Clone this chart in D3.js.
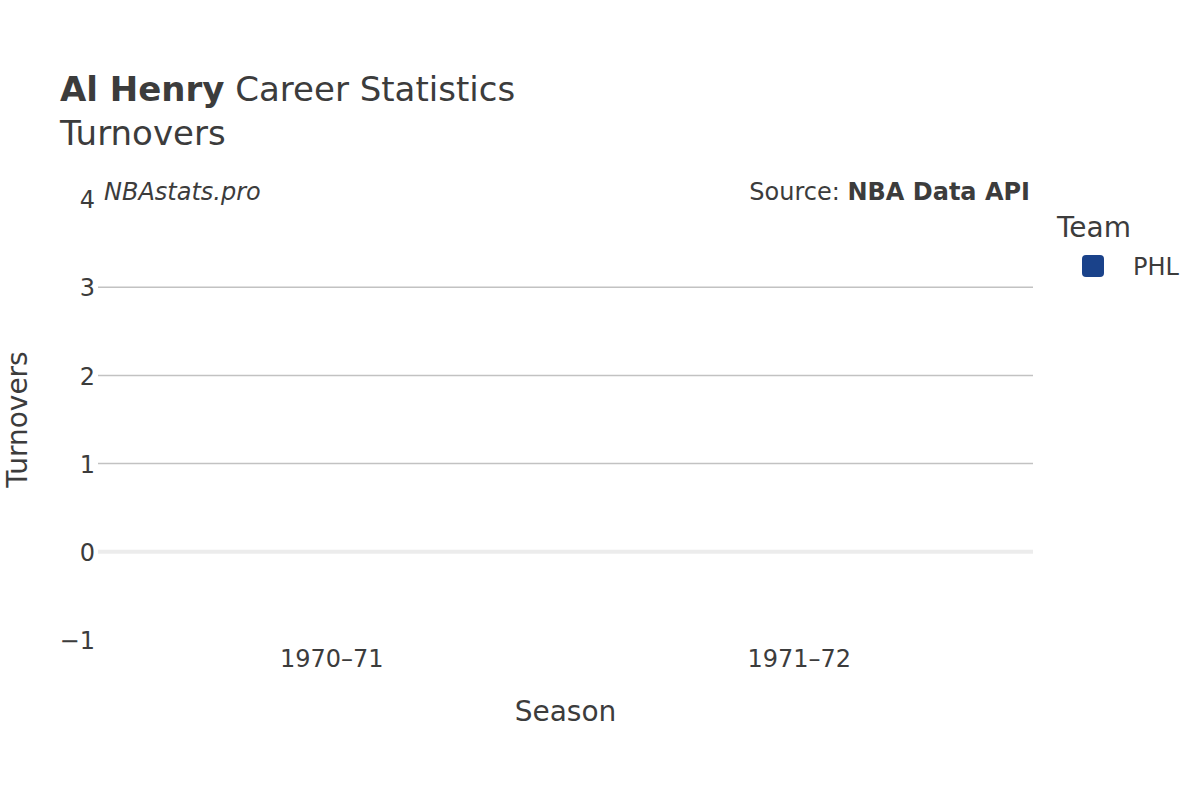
<!DOCTYPE html>
<html>
<head>
<meta charset="utf-8">
<title>Al Henry Career Statistics - Turnovers</title>
<style>
  body { margin: 0; background: #fff; }
  svg text { font-family: "DejaVu Sans", sans-serif; fill: #3c3c3c; }
</style>
</head>
<body>
<svg id="chart"></svg>
<script src="https://d3js.org/d3.v7.min.js"></script>
<script>
// data
var seasons = ["1970–71", "1971–72"];
var turnovers = [0, 0];
var teams = ["PHL"];
var teamColors = ["#1a428a"];
var yTicks = [-1, 0, 1, 2, 3, 4];

var svgWidth = 1200, svgHeight = 800;
var margin = { top: 199, right: 167, bottom: 160, left: 98 };
var plotW = svgWidth - margin.left - margin.right;
var plotH = svgHeight - margin.top - margin.bottom;

var svg = d3.select("#chart")
    .attr("width", svgWidth)
    .attr("height", svgHeight);

var xScale = d3.scaleBand()
    .domain(seasons)
    .range([0, plotW])
    .paddingInner(0.2)
    .paddingOuter(0.1);

var yScale = d3.scaleLinear()
    .domain([-1, 4])
    .range([plotH, 0]);

var plot = svg.append("g")
    .attr("transform", "translate(" + margin.left + "," + margin.top + ")");

// grid
plot.append("g")
    .selectAll("line")
    .data(yTicks.filter(function(d) { return d > 0 && d < 4; }))
    .enter()
    .append("line")
    .attr("x1", 0)
    .attr("x2", plotW)
    .attr("y1", function(d) { return yScale(d); })
    .attr("y2", function(d) { return yScale(d); })
    .attr("stroke", "#c2c2c2")
    .attr("stroke-width", 1.5);

// bars (zero height)
plot.selectAll("rect.bar")
    .data(turnovers)
    .enter()
    .append("rect")
    .attr("class", "bar")
    .attr("x", function(d, i) { return xScale(seasons[i]); })
    .attr("width", xScale.bandwidth())
    .attr("y", function(d) { return yScale(Math.max(d, 0)); })
    .attr("height", function(d) { return Math.abs(yScale(d) - yScale(0)); })
    .attr("fill", teamColors[0]);

// zero line
plot.append("line")
    .attr("x1", 0)
    .attr("x2", plotW)
    .attr("y1", yScale(0))
    .attr("y2", yScale(0))
    .attr("stroke", "#ececec")
    .attr("stroke-width", 4);

// y axis
var yAxis = d3.axisLeft(yScale)
    .tickValues(yTicks)
    .tickSize(0)
    .tickPadding(3)
    .tickFormat(function(d) { return d < 0 ? "\u2212" + Math.abs(d) : d; });

var yg = plot.append("g").call(yAxis);
yg.select(".domain").remove();
yg.selectAll("text")
    .style("font-size", "24px")
    .attr("dy", "0.36em");

// x axis
var xAxis = d3.axisBottom(xScale)
    .tickSize(0)
    .tickPadding(0);

var xg = plot.append("g")
    .attr("transform", "translate(0," + plotH + ")")
    .call(xAxis);
xg.select(".domain").remove();
xg.selectAll("text")
    .style("font-size", "24px")
    .attr("y", 10);

// titles
var title = svg.append("text")
    .attr("x", 60)
    .attr("y", 101)
    .style("font-size", "34px");
title.append("tspan").style("font-weight", "bold").text("Al Henry");
title.append("tspan").text(" Career Statistics");

svg.append("text")
    .attr("x", 60)
    .attr("y", 145)
    .style("font-size", "34px")
    .text("Turnovers");

svg.append("text")
    .attr("x", 104)
    .attr("y", 200)
    .style("font-size", "24px")
    .style("font-style", "italic")
    .text("NBAstats.pro");

var source = svg.append("text")
    .attr("x", 1030)
    .attr("y", 200)
    .attr("text-anchor", "end")
    .style("font-size", "24px");
source.append("tspan").text("Source: ");
source.append("tspan").style("font-weight", "bold").text("NBA Data API");

// axis titles
svg.append("text")
    .attr("x", margin.left + plotW / 2)
    .attr("y", 721)
    .attr("text-anchor", "middle")
    .style("font-size", "28px")
    .text("Season");

svg.append("text")
    .attr("transform", "translate(27," + (margin.top + plotH / 2) + ") rotate(-90)")
    .attr("text-anchor", "middle")
    .style("font-size", "28px")
    .text("Turnovers");

// legend
var legend = svg.append("g")
    .attr("transform", "translate(1057,0)");

legend.append("text")
    .attr("x", 0)
    .attr("y", 237)
    .style("font-size", "28px")
    .text("Team");

var items = legend.selectAll("g.item")
    .data(teams)
    .enter()
    .append("g")
    .attr("class", "item")
    .attr("transform", function(d, i) { return "translate(0," + (266 + i * 30) + ")"; });

items.append("rect")
    .attr("x", 25)
    .attr("y", -11)
    .attr("width", 22)
    .attr("height", 22)
    .attr("rx", 4)
    .attr("fill", function(d, i) { return teamColors[i]; });

items.append("text")
    .attr("x", 76)
    .attr("y", 0)
    .attr("dy", "0.36em")
    .style("font-size", "24px")
    .text(function(d) { return d; });
</script>
</body>
</html>
